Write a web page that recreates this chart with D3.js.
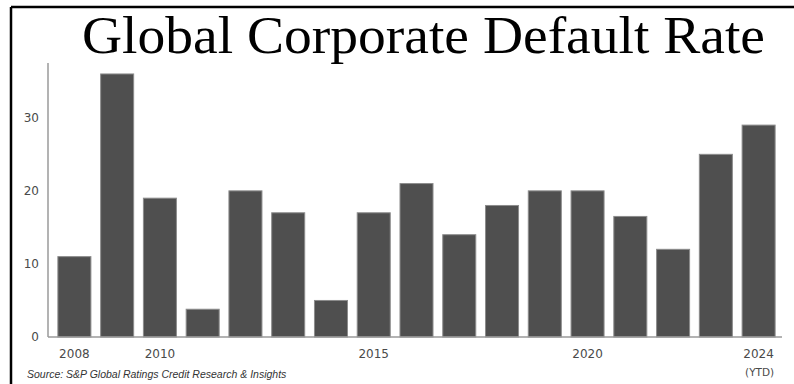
<!DOCTYPE html>
<html>
<head>
<meta charset="utf-8">
<script src="https://cdn.jsdelivr.net/npm/d3@7"></script>
<style>
  html, body { margin: 0; padding: 0; background: #fff; }
  svg { display: block; }
</style>
</head>
<body>
<svg id="chart" width="794" height="384"></svg>
<script>
// Annual global corporate default counts
const years = [2008, 2009, 2010, 2011, 2012, 2013, 2014, 2015, 2016, 2017, 2018, 2019, 2020, 2021, 2022, 2023, 2024];
const defaults = [11, 36, 19, 3.8, 20, 17, 5, 17, 21, 14, 18, 20, 20, 16.5, 12, 25, 29];
const yTicks = [0, 10, 20, 30];
const labeledYears = [2008, 2010, 2015, 2020, 2024];
const titleText = "Global Corporate Default Rate";
const sourceText = "Source: S&P Global Ratings Credit Research & Insights";

const svg = d3.select("#chart");

// frame lines (top and left)
svg.append("line").attr("x1", 11).attr("x2", 794).attr("y1", 7).attr("y2", 7)
  .attr("stroke", "#000").attr("stroke-width", 2.5);
svg.append("line").attr("x1", 11).attr("x2", 11).attr("y1", 7).attr("y2", 384)
  .attr("stroke", "#000").attr("stroke-width", 2.5);

// title
svg.append("text")
  .attr("x", 82).attr("y", 53)
  .attr("font-family", "'Liberation Serif', 'Times New Roman', serif")
  .attr("font-size", 53)
  .attr("fill", "#000")
  .attr("textLength", 683)
  .attr("lengthAdjust", "spacingAndGlyphs")
  .text(titleText);

const x = d3.scaleBand().domain(years).range([53, 780]).paddingInner(0.228).paddingOuter(0.114);
const y = d3.scaleLinear().domain([0, 37.5]).range([337, 63]);

// bars
svg.append("g").selectAll("rect")
  .data(years.map((yr, i) => ({ yr, v: defaults[i] })))
  .join("rect")
  .attr("x", d => x(d.yr))
  .attr("width", x.bandwidth())
  .attr("y", d => y(d.v))
  .attr("height", d => y(0) - y(d.v))
  .attr("fill", "#4f4f4f")
  .attr("stroke", "#8c8c8c")
  .attr("stroke-width", 1);

// axes lines
svg.append("line").attr("x1", 48).attr("x2", 48).attr("y1", y.range()[1]).attr("y2", y(0))
  .attr("stroke", "#9a9a9a").attr("stroke-width", 1.5);
svg.append("line").attr("x1", 48).attr("x2", 782).attr("y1", y(0)).attr("y2", y(0))
  .attr("stroke", "#9a9a9a").attr("stroke-width", 1.5);

// y tick labels
const yAxis = d3.axisLeft(y).tickValues(yTicks).tickSize(0).tickPadding(0);
const gy = svg.append("g").attr("transform", "translate(39,0)").call(yAxis);
gy.select(".domain").remove();
gy.selectAll("text")
  .attr("font-family", "'DejaVu Sans', sans-serif")
  .attr("font-size", 12)
  .attr("fill", "#4a4a4a");

// x tick labels
const xAxis = d3.axisBottom(x).tickValues(labeledYears).tickSize(0).tickPadding(0);
const gx = svg.append("g").attr("transform", `translate(0,${y(0) + 12})`).call(xAxis);
gx.select(".domain").remove();
gx.selectAll("text")
  .attr("font-family", "'DejaVu Sans', sans-serif")
  .attr("font-size", 12)
  .attr("fill", "#4a4a4a");

svg.append("text")
  .attr("x", x(2024) + x.bandwidth() / 2 + 1).attr("y", 376)
  .attr("text-anchor", "middle")
  .attr("font-family", "'DejaVu Sans', sans-serif")
  .attr("font-size", 10.5)
  .attr("fill", "#4a4a4a")
  .text("(YTD)");

// source note
svg.append("text")
  .attr("x", 27).attr("y", 378)
  .attr("font-family", "'Liberation Sans', Arial, sans-serif")
  .attr("font-style", "italic")
  .attr("font-size", 10.5)
  .attr("fill", "#333")
  .text(sourceText);
</script>
</body>
</html>
